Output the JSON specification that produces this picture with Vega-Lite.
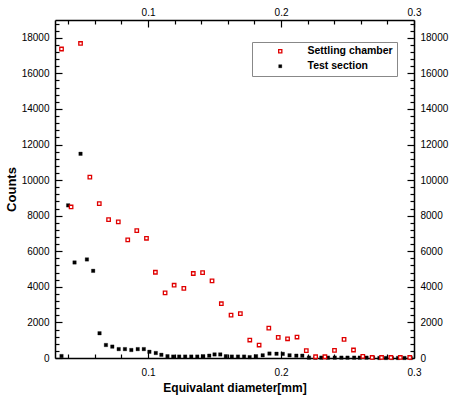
{
  "$schema": "https://vega.github.io/schema/vega-lite/v6.json",
  "width": 359,
  "height": 338,
  "autosize": {"type": "none"},
  "padding": {"left": 55, "top": 20, "right": 58, "bottom": 38},
  "background": "white",
  "config": {
    "view": {"stroke": null},
    "font": "Liberation Sans",
    "axis": {
      "grid": false,
      "domainColor": "black",
      "domainWidth": 1.5,
      "tickColor": "black",
      "tickWidth": 1.2,
      "labelFont": "Liberation Sans",
      "labelFontSize": 10,
      "labelColor": "black",
      "labelFlush": false,
      "labelOverlap": false,
      "titleFont": "Liberation Sans",
      "titleFontWeight": "bold",
      "titleColor": "black"
    }
  },
  "datasets": {
    "pts": [
      {"s": "Test section", "d": 0.0349, "c": 110},
      {"s": "Test section", "d": 0.0399, "c": 8580},
      {"s": "Test section", "d": 0.0447, "c": 5370},
      {"s": "Test section", "d": 0.0492, "c": 11480},
      {"s": "Test section", "d": 0.0540, "c": 5540},
      {"s": "Test section", "d": 0.0587, "c": 4900},
      {"s": "Test section", "d": 0.0635, "c": 1390},
      {"s": "Test section", "d": 0.0683, "c": 730},
      {"s": "Test section", "d": 0.0731, "c": 640},
      {"s": "Test section", "d": 0.0779, "c": 500},
      {"s": "Test section", "d": 0.0826, "c": 500},
      {"s": "Test section", "d": 0.0874, "c": 450},
      {"s": "Test section", "d": 0.0922, "c": 500},
      {"s": "Test section", "d": 0.0968, "c": 500},
      {"s": "Test section", "d": 0.1010, "c": 350},
      {"s": "Test section", "d": 0.1058, "c": 280},
      {"s": "Test section", "d": 0.1100, "c": 180},
      {"s": "Test section", "d": 0.1146, "c": 100},
      {"s": "Test section", "d": 0.1189, "c": 80},
      {"s": "Test section", "d": 0.1234, "c": 80},
      {"s": "Test section", "d": 0.1279, "c": 80},
      {"s": "Test section", "d": 0.1325, "c": 80},
      {"s": "Test section", "d": 0.1370, "c": 80},
      {"s": "Test section", "d": 0.1415, "c": 100},
      {"s": "Test section", "d": 0.1460, "c": 130},
      {"s": "Test section", "d": 0.1500, "c": 200},
      {"s": "Test section", "d": 0.1543, "c": 200},
      {"s": "Test section", "d": 0.1585, "c": 100},
      {"s": "Test section", "d": 0.1630, "c": 80},
      {"s": "Test section", "d": 0.1676, "c": 80},
      {"s": "Test section", "d": 0.1722, "c": 80},
      {"s": "Test section", "d": 0.1764, "c": 50},
      {"s": "Test section", "d": 0.1812, "c": 100},
      {"s": "Test section", "d": 0.1862, "c": 150},
      {"s": "Test section", "d": 0.1913, "c": 250},
      {"s": "Test section", "d": 0.1966, "c": 240},
      {"s": "Test section", "d": 0.2013, "c": 230},
      {"s": "Test section", "d": 0.2064, "c": 150},
      {"s": "Test section", "d": 0.2115, "c": 130},
      {"s": "Test section", "d": 0.2160, "c": 130},
      {"s": "Test section", "d": 0.2210, "c": 20},
      {"s": "Test section", "d": 0.2258, "c": 20},
      {"s": "Test section", "d": 0.2303, "c": 20},
      {"s": "Test section", "d": 0.2353, "c": 20},
      {"s": "Test section", "d": 0.2404, "c": 20},
      {"s": "Test section", "d": 0.2454, "c": 20},
      {"s": "Test section", "d": 0.2500, "c": 20},
      {"s": "Test section", "d": 0.2550, "c": 20},
      {"s": "Test section", "d": 0.2592, "c": 20},
      {"s": "Test section", "d": 0.2643, "c": 20},
      {"s": "Test section", "d": 0.2692, "c": 20},
      {"s": "Test section", "d": 0.2740, "c": 0},
      {"s": "Test section", "d": 0.2789, "c": 0},
      {"s": "Test section", "d": 0.2834, "c": 0},
      {"s": "Test section", "d": 0.2880, "c": 0},
      {"s": "Test section", "d": 0.2928, "c": 0},
      {"s": "Test section", "d": 0.2975, "c": 0},
      {"s": "Settling chamber", "d": 0.0349, "c": 17370},
      {"s": "Settling chamber", "d": 0.0421, "c": 8490},
      {"s": "Settling chamber", "d": 0.0492, "c": 17680},
      {"s": "Settling chamber", "d": 0.0562, "c": 10170},
      {"s": "Settling chamber", "d": 0.0633, "c": 8680},
      {"s": "Settling chamber", "d": 0.0703, "c": 7780},
      {"s": "Settling chamber", "d": 0.0776, "c": 7650},
      {"s": "Settling chamber", "d": 0.0847, "c": 6640},
      {"s": "Settling chamber", "d": 0.0915, "c": 7160},
      {"s": "Settling chamber", "d": 0.0988, "c": 6730},
      {"s": "Settling chamber", "d": 0.1055, "c": 4820},
      {"s": "Settling chamber", "d": 0.1128, "c": 3660},
      {"s": "Settling chamber", "d": 0.1196, "c": 4090},
      {"s": "Settling chamber", "d": 0.1269, "c": 3910},
      {"s": "Settling chamber", "d": 0.1340, "c": 4750},
      {"s": "Settling chamber", "d": 0.1410, "c": 4800},
      {"s": "Settling chamber", "d": 0.1481, "c": 4340},
      {"s": "Settling chamber", "d": 0.1551, "c": 3050},
      {"s": "Settling chamber", "d": 0.1624, "c": 2410},
      {"s": "Settling chamber", "d": 0.1694, "c": 2490},
      {"s": "Settling chamber", "d": 0.1765, "c": 1010},
      {"s": "Settling chamber", "d": 0.1835, "c": 730},
      {"s": "Settling chamber", "d": 0.1908, "c": 1680},
      {"s": "Settling chamber", "d": 0.1979, "c": 1160},
      {"s": "Settling chamber", "d": 0.2049, "c": 1080},
      {"s": "Settling chamber", "d": 0.2120, "c": 1180},
      {"s": "Settling chamber", "d": 0.2190, "c": 410},
      {"s": "Settling chamber", "d": 0.2260, "c": 70},
      {"s": "Settling chamber", "d": 0.2330, "c": 70},
      {"s": "Settling chamber", "d": 0.2402, "c": 430},
      {"s": "Settling chamber", "d": 0.2474, "c": 1050},
      {"s": "Settling chamber", "d": 0.2545, "c": 450},
      {"s": "Settling chamber", "d": 0.2615, "c": 90},
      {"s": "Settling chamber", "d": 0.2685, "c": 30},
      {"s": "Settling chamber", "d": 0.2756, "c": 30},
      {"s": "Settling chamber", "d": 0.2826, "c": 30},
      {"s": "Settling chamber", "d": 0.2897, "c": 30},
      {"s": "Settling chamber", "d": 0.2968, "c": 30}
    ]
  },
  "data": {"name": "pts"},
  "resolve": {
    "scale": {"x": "independent", "y": "independent"},
    "axis": {"x": "independent", "y": "independent"}
  },
  "layer": [
    {
      "mark": {"type": "point", "shape": "square", "filled": true, "size": 12, "opacity": 1},
      "encoding": {
        "x": {
          "field": "d", "type": "quantitative",
          "scale": {"domain": [0.03, 0.3], "nice": false, "zero": false},
          "axis": {
            "orient": "bottom", "values": [0.1, 0.2, 0.3], "format": ".1f",
            "tickSize": -7, "labelPadding": 16,
            "title": "Equivalant diameter[mm]", "titleFontSize": 12, "titlePadding": 5
          }
        },
        "y": {
          "field": "c", "type": "quantitative",
          "scale": {"domain": [0, 19000], "nice": false, "zero": false},
          "axis": {
            "orient": "left",
            "values": [0, 2000, 4000, 6000, 8000, 10000, 12000, 14000, 16000, 18000],
            "format": "d", "tickSize": -7, "labelPadding": 13,
            "title": "Counts", "titleFontSize": 13, "titlePadding": 3
          }
        },
        "stroke": {
          "field": "s", "type": "nominal",
          "scale": {"domain": ["Settling chamber", "Test section"], "range": ["#e00000", "black"]},
          "legend": {
            "title": null, "orient": "none", "legendX": 197, "legendY": 22,
            "strokeColor": "#888888", "fillColor": "white", "padding": 4,
            "symbolType": "square", "symbolSize": 10, "symbolStrokeWidth": 1.2,
            "symbolOffset": 19, "labelOffset": 22,
            "labelFont": "Liberation Sans", "labelFontSize": 10.5, "labelFontWeight": "bold",
            "labelColor": "black", "rowPadding": 4
          }
        },
        "fill": {
          "field": "s", "type": "nominal",
          "scale": {"domain": ["Settling chamber", "Test section"], "range": ["white", "black"]},
          "legend": {
            "title": null, "orient": "none", "legendX": 197, "legendY": 22,
            "strokeColor": "#888888", "fillColor": "white", "padding": 4,
            "symbolType": "square", "symbolSize": 10, "symbolStrokeWidth": 1.2,
            "symbolOffset": 19, "labelOffset": 22,
            "labelFont": "Liberation Sans", "labelFontSize": 10.5, "labelFontWeight": "bold",
            "labelColor": "black", "rowPadding": 4
          }
        },
        "strokeWidth": {
          "field": "s", "type": "nominal",
          "scale": {"domain": ["Settling chamber", "Test section"], "range": [1.3, 0.3]},
          "legend": null
        }
      }
    },
    {
      "mark": {"type": "point", "opacity": 0},
      "encoding": {
        "x": {
          "field": "d", "type": "quantitative",
          "scale": {"domain": [0.03, 0.3], "nice": false, "zero": false},
          "axis": {
            "orient": "top", "values": [0.1, 0.2, 0.3], "format": ".1f",
            "tickSize": -7, "labelPadding": 10, "title": null
          }
        },
        "y": {
          "field": "c", "type": "quantitative",
          "scale": {"domain": [0, 19000], "nice": false, "zero": false},
          "axis": {
            "orient": "right",
            "values": [0, 2000, 4000, 6000, 8000, 10000, 12000, 14000, 16000, 18000],
            "format": "d", "tickSize": -7, "labelPadding": 13, "title": null
          }
        }
      }
    },
    {
      "mark": {"type": "point", "opacity": 0},
      "encoding": {
        "x": {
          "field": "d", "type": "quantitative",
          "scale": {"domain": [0.03, 0.3], "nice": false, "zero": false},
          "axis": {
            "orient": "bottom",
            "values": [0.04, 0.06, 0.08, 0.12, 0.14, 0.16, 0.18, 0.22, 0.24, 0.26, 0.28],
            "tickSize": -4, "labels": false, "domain": false, "title": null
          }
        },
        "y": {
          "field": "c", "type": "quantitative",
          "scale": {"domain": [0, 19000], "nice": false, "zero": false},
          "axis": {
            "orient": "left",
            "values": [400, 800, 1200, 1600, 2400, 2800, 3200, 3600, 4400, 4800, 5200, 5600, 6400, 6800, 7200, 7600, 8400, 8800, 9200, 9600, 10400, 10800, 11200, 11600, 12400, 12800, 13200, 13600, 14400, 14800, 15200, 15600, 16400, 16800, 17200, 17600, 18400, 18800],
            "tickSize": -4, "labels": false, "domain": false, "title": null
          }
        }
      }
    },
    {
      "mark": {"type": "point", "opacity": 0},
      "encoding": {
        "x": {
          "field": "d", "type": "quantitative",
          "scale": {"domain": [0.03, 0.3], "nice": false, "zero": false},
          "axis": {
            "orient": "top",
            "values": [0.04, 0.06, 0.08, 0.12, 0.14, 0.16, 0.18, 0.22, 0.24, 0.26, 0.28],
            "tickSize": -4, "labels": false, "domain": false, "title": null
          }
        },
        "y": {
          "field": "c", "type": "quantitative",
          "scale": {"domain": [0, 19000], "nice": false, "zero": false},
          "axis": {
            "orient": "right",
            "values": [400, 800, 1200, 1600, 2400, 2800, 3200, 3600, 4400, 4800, 5200, 5600, 6400, 6800, 7200, 7600, 8400, 8800, 9200, 9600, 10400, 10800, 11200, 11600, 12400, 12800, 13200, 13600, 14400, 14800, 15200, 15600, 16400, 16800, 17200, 17600, 18400, 18800],
            "tickSize": -4, "labels": false, "domain": false, "title": null
          }
        }
      }
    }
  ]
}
